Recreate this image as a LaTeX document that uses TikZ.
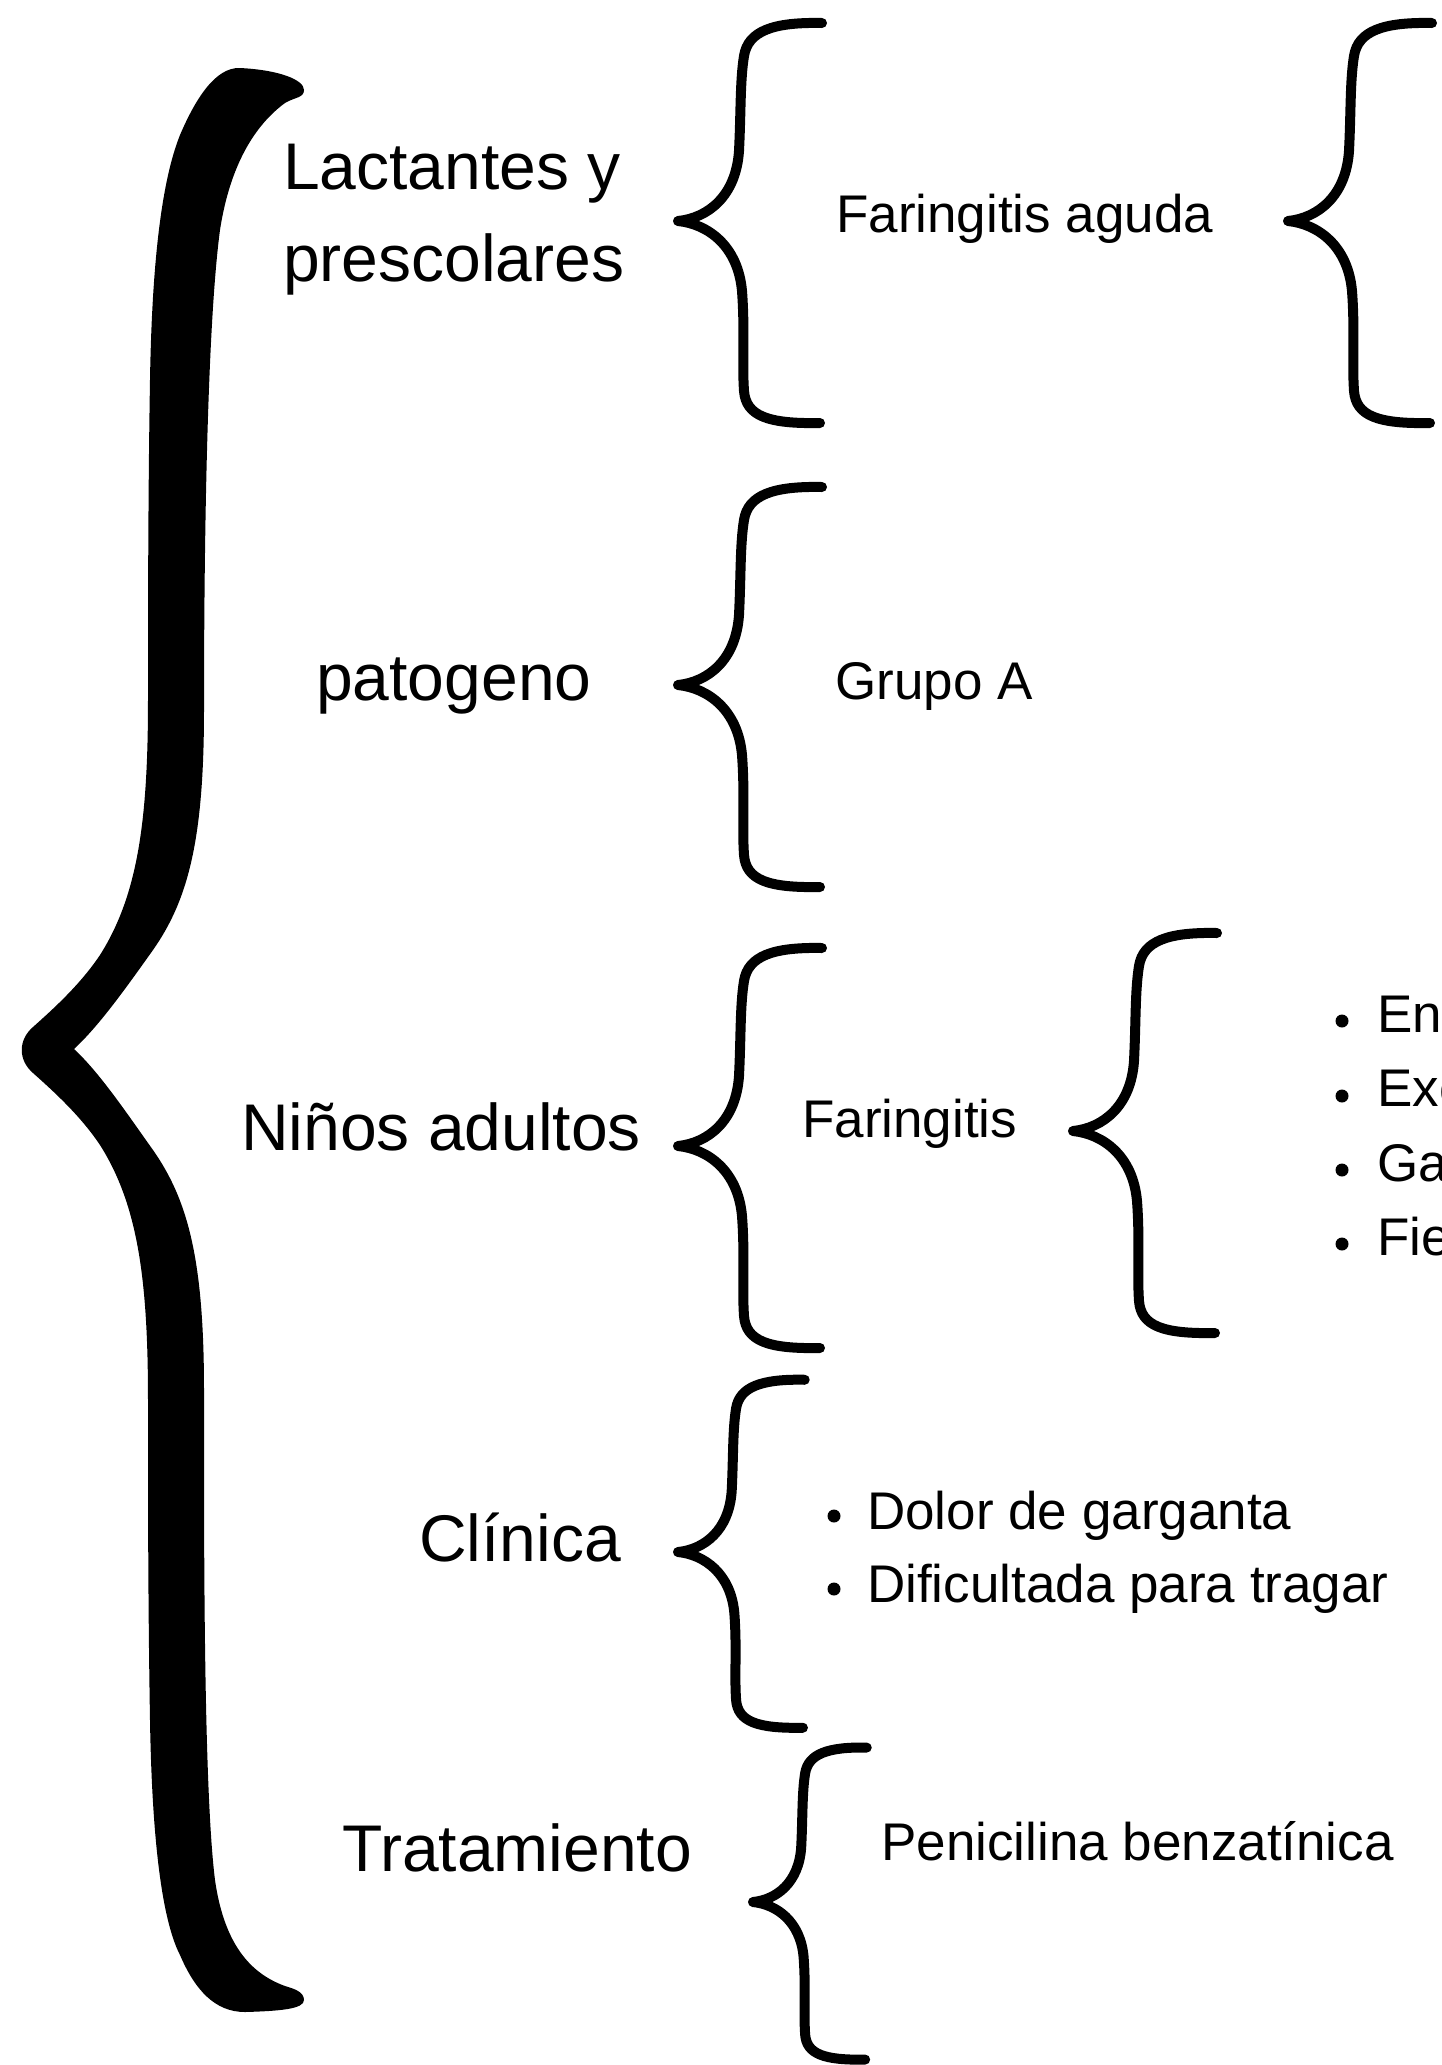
\documentclass[tikz,border=0pt]{standalone}
\usepackage{fontspec}
\setmainfont{Liberation Sans}
\begin{document}
\begin{tikzpicture}[x=1pt,y=-1pt,
  big/.style={font=\fontsize{66}{79}\selectfont, inner sep=0pt, anchor=west},
  small/.style={font=\fontsize{53}{64}\selectfont, inner sep=0pt, anchor=west},
  dot/.style={circle, fill=black, inner sep=0pt, minimum size=13pt},
  bracestroke/.style={line width=10pt, line cap=round, line join=round},
  cbrace/.pic={
    \draw[bracestroke] (144,-198) .. controls (95,-199) and (70,-190) .. (66,-165)
      .. controls (62,-140) and (63,-110) .. (61,-70)
      .. controls (58,-25) and (30,-3) .. (0,0)
      .. controls (30,3) and (60,25) .. (64,70)
      .. controls (67,110) and (64,140) .. (66,170)
      .. controls (68,195) and (90,203) .. (142,202);
  }]
\useasboundingbox (0,0) rectangle (1441,2065);
\fill[white] (0,0) rectangle (1441,2065);
\clip (0,0) rectangle (1441,2065);

% big brace
\fill[black] (304,90)
  .. controls (304,80) and (280,70) .. (240,68)
  .. controls (215,67) and (195,100) .. (180,135)
  .. controls (162,180) and (152,260) .. (150,380)
  .. controls (148,500) and (148,620) .. (148,700)
  .. controls (148,820) and (138,895) .. (100,955)
  .. controls (80,985) and (52,1010) .. (33,1027)
  .. controls (18,1040) and (18,1060) .. (33,1073)
  .. controls (52,1090) and (80,1115) .. (100,1145)
  .. controls (138,1205) and (148,1280) .. (148,1400)
  .. controls (148,1500) and (148,1600) .. (150,1720)
  .. controls (152,1840) and (162,1920) .. (180,1955)
  .. controls (195,1990) and (215,2012) .. (245,2012)
  .. controls (280,2011) and (304,2009) .. (304,2000)
  .. controls (304,1992) and (295,1989) .. (285,1986)
  .. controls (255,1975) and (225,1950) .. (215,1880)
  .. controls (205,1800) and (204,1600) .. (204,1450)
  .. controls (204,1420) and (204,1400) .. (204,1390)
  .. controls (204,1260) and (188,1200) .. (153,1150)
  .. controls (128,1115) and (100,1073) .. (74,1049)
  .. controls (100,1025) and (128,985) .. (153,950)
  .. controls (188,900) and (204,840) .. (204,710)
  .. controls (204,520) and (208,320) .. (220,230)
  .. controls (230,165) and (255,125) .. (285,103)
  .. controls (295,97) and (304,98) .. (304,90) -- cycle;

% medium braces
\pic (b1) at (678,221) {cbrace};
\pic (b2) at (1288,221) {cbrace};
\pic (b3) at (678,685) {cbrace};
\pic (b4) at (678,1146) {cbrace};
\pic (b5) at (1073,1131) {cbrace};
\pic[xscale=0.88,yscale=0.87] (b6) at (678,1552) {cbrace};
\pic[xscale=0.79,yscale=0.78] (b7) at (753,1902) {cbrace};

% main labels
\node[big] (lac) at (283,174) {Lactantes y};
\node[big] (pre) at (283,264) {prescolares};
\node[big] (pat) at (316,686) {patogeno};
\node[big] (nin) at (241,1127) {Niños adultos};
\node[big] (cli) at (419,1538) {Clínica};
\node[big] (tra) at (342,1848) {Tratamiento};

% second level
\node[small] (fa) at (836,219) {Faringitis aguda};
\node[small] (gr) at (835,686) {Grupo A};
\node[small] (fr) at (802,1124) {Faringitis};
\node[small] (pen) at (881,1841) {Penicilina benzatínica};

\node[small] (dol) at (867,1516) {Dolor de garganta};
\node[small] (dif) at (867,1589) {Dificultada para tragar};
\node[dot] (dd1) at (834,1516) {};
\node[dot] (dd2) at (834,1589) {};

% right list (cut by the page edge, as in the reference)
\node[small] (r1) at (1377,1014) {En};
\node[small] (r2) at (1377,1089) {Exc};
\node[small] (r3) at (1377,1163) {Ga};
\node[small] (r4) at (1377,1237) {Fie};
\node[dot] (rd1) at (1342,1021) {};
\node[dot] (rd2) at (1342,1096) {};
\node[dot] (rd3) at (1342,1170) {};
\node[dot] (rd4) at (1342,1244) {};
\end{tikzpicture}
\end{document}
